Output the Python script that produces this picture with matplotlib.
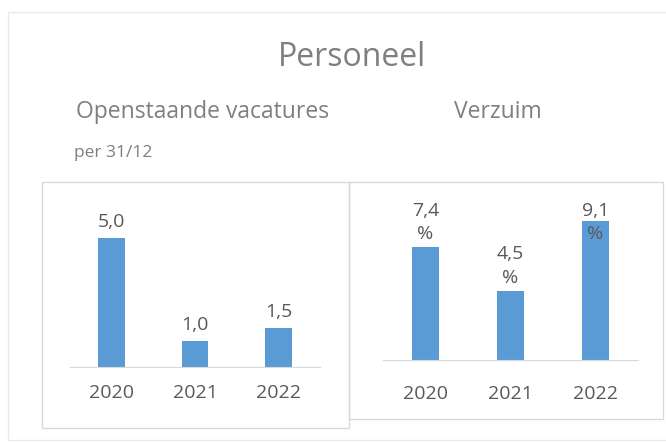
import matplotlib.pyplot as plt
from matplotlib.patches import Rectangle

years = ["2020", "2021", "2022"]
vacatures = [5.0, 1.0, 1.5]
verzuim = [7.4, 4.5, 9.1]

W, H = 666, 443
BAR = "#5B9BD5"
TXT = "#595959"
GRID = "#D9D9D9"
plt.rcParams["font.family"] = ["Open Sans", "DejaVu Sans"]


def fx(px):
    return px / W


def fy(py):
    return 1 - py / H


def box(fig, x0, y0, x1, y1, color):
    fig.patches.append(Rectangle((fx(x0), fy(y1)), fx(x1 - x0), (y1 - y0) / H,
                                 transform=fig.transFigure, fill=False,
                                 edgecolor=color, linewidth=1.0))


def bar_panel(ax, values, ymax, pad):
    x = range(len(values))
    ax.bar(x, values, width=0.32, color=BAR)
    ax.set_xlim(-0.5, len(values) - 0.5)
    ax.set_ylim(0, ymax)
    ax.set_xticks(list(x), years)
    ax.tick_params(axis="x", length=0, pad=pad, labelsize=14, labelcolor=TXT)
    ax.set_yticks([])
    for side in ["left", "right", "top"]:
        ax.spines[side].set_visible(False)
    ax.spines["bottom"].set_color(GRID)
    return x


fig = plt.figure(figsize=(W / 100, H / 100), dpi=100)

box(fig, 8, 12, 670, 440, "#EBEBEB")
box(fig, 42, 182, 349, 428, GRID)
box(fig, 349, 182, 663, 419, GRID)

fig.text(fx(352), fy(57), "Personeel", ha="center", va="center",
         fontsize=23, color="#7F7F7F")
fig.text(fx(76), fy(112), "Openstaande vacatures", ha="left", va="center",
         fontsize=16.5, color="#7F7F7F")
fig.text(fx(454), fy(112), "Verzuim", ha="left", va="center",
         fontsize=16.5, color="#7F7F7F")
fig.text(fx(74), fy(153), "per 31/12", ha="left", va="center",
         fontsize=12.5, color="#7F7F7F")

# left panel
ax1 = fig.add_axes([fx(70), fy(367), fx(320 - 70), (367 - 190) / H])
xs = bar_panel(ax1, vacatures, (367 - 190) / 25.8, 12)
for i, v in zip(xs, vacatures):
    ax1.annotate(f"{v:.1f}".replace(".", ","), (i, v), xytext=(0, 5),
                 textcoords="offset points", ha="center", va="bottom",
                 fontsize=14, color=TXT)

# right panel
ymax2 = (360 - 193) / 15.3
ax2 = fig.add_axes([fx(383), fy(360), fx(638 - 383), (360 - 193) / H])
xs = bar_panel(ax2, verzuim, ymax2, 18)
for i, v in zip(xs, verzuim):
    ly = min(v, ymax2 - 3.55)
    ax2.annotate(f"{v:.1f}".replace(".", ",") + "\n%", (i, ly), xytext=(0, 3),
                 textcoords="offset points", ha="center", va="bottom",
                 fontsize=14, color=TXT, linespacing=1.4)

fig.savefig("out.png", dpi=100)
